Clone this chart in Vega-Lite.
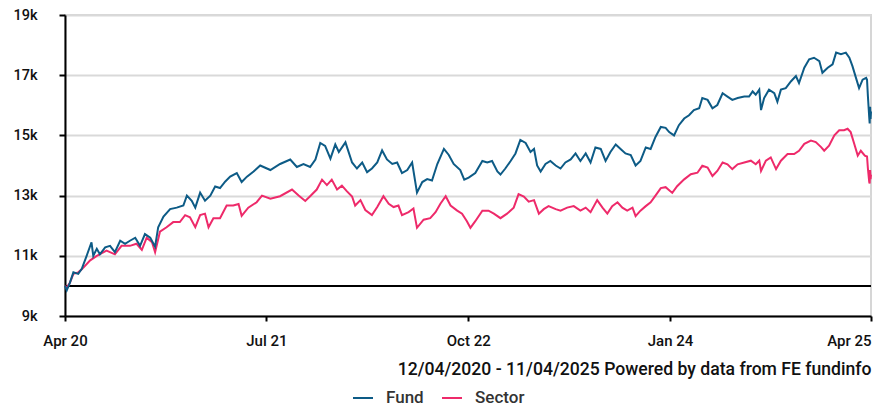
{
  "$schema": "https://vega.github.io/schema/vega-lite/v6.json",
  "width": 806,
  "height": 301,
  "autosize": {"type": "none"},
  "padding": {"left": 65, "top": 15, "right": 13, "bottom": 92},
  "background": "white",
  "config": {
    "view": {"stroke": "#d6d6d6", "strokeWidth": 2},
    "font": "Roboto"
  },
  "datasets": {
    "fund": [
      {"date":"2020-04-12","v":10000},{"date":"2020-04-16","v":9850},{"date":"2020-04-23","v":10100},{"date":"2020-05-01","v":10450},{"date":"2020-05-12","v":10400},{"date":"2020-05-20","v":10570},{"date":"2020-05-31","v":11000},{"date":"2020-06-11","v":11450},{"date":"2020-06-15","v":11000},{"date":"2020-06-23","v":11230},{"date":"2020-06-30","v":11050},{"date":"2020-07-12","v":11280},{"date":"2020-07-23","v":11330},{"date":"2020-08-03","v":11120},{"date":"2020-08-15","v":11500},{"date":"2020-08-26","v":11400},{"date":"2020-09-06","v":11500},{"date":"2020-09-18","v":11600},{"date":"2020-09-29","v":11330},{"date":"2020-10-10","v":11720},{"date":"2020-10-22","v":11600},{"date":"2020-11-02","v":11300},{"date":"2020-11-09","v":11950},{"date":"2020-11-21","v":12300},{"date":"2020-12-06","v":12550},{"date":"2020-12-21","v":12600},{"date":"2021-01-05","v":12670},{"date":"2021-01-13","v":13000},{"date":"2021-01-24","v":12830},{"date":"2021-02-01","v":12600},{"date":"2021-02-12","v":13100},{"date":"2021-02-23","v":12830},{"date":"2021-03-07","v":13000},{"date":"2021-03-18","v":13300},{"date":"2021-03-29","v":13250},{"date":"2021-04-10","v":13470},{"date":"2021-04-21","v":13630},{"date":"2021-05-06","v":13750},{"date":"2021-05-17","v":13450},{"date":"2021-05-29","v":13630},{"date":"2021-06-13","v":13800},{"date":"2021-06-28","v":14000},{"date":"2021-07-21","v":13850},{"date":"2021-08-12","v":14050},{"date":"2021-09-04","v":14200},{"date":"2021-09-19","v":13950},{"date":"2021-10-04","v":14050},{"date":"2021-10-19","v":13950},{"date":"2021-10-31","v":14200},{"date":"2021-11-11","v":14750},{"date":"2021-11-22","v":14650},{"date":"2021-12-04","v":14230},{"date":"2021-12-15","v":14700},{"date":"2021-12-23","v":14450},{"date":"2022-01-07","v":14770},{"date":"2022-01-22","v":14100},{"date":"2022-02-02","v":13900},{"date":"2022-02-14","v":14100},{"date":"2022-02-25","v":13780},{"date":"2022-03-08","v":13900},{"date":"2022-03-20","v":14100},{"date":"2022-03-31","v":14500},{"date":"2022-04-11","v":14200},{"date":"2022-04-23","v":14050},{"date":"2022-05-04","v":14100},{"date":"2022-05-15","v":13750},{"date":"2022-05-27","v":13850},{"date":"2022-06-07","v":14100},{"date":"2022-06-18","v":13100},{"date":"2022-06-30","v":13450},{"date":"2022-07-11","v":13550},{"date":"2022-07-22","v":13500},{"date":"2022-08-03","v":14050},{"date":"2022-08-18","v":14550},{"date":"2022-08-29","v":14350},{"date":"2022-09-09","v":14050},{"date":"2022-09-24","v":13850},{"date":"2022-10-03","v":13530},{"date":"2022-10-13","v":13600},{"date":"2022-10-28","v":13750},{"date":"2022-11-13","v":14150},{"date":"2022-11-24","v":14100},{"date":"2022-12-05","v":14150},{"date":"2022-12-17","v":13800},{"date":"2022-12-24","v":13700},{"date":"2023-01-04","v":13900},{"date":"2023-01-16","v":14150},{"date":"2023-01-27","v":14400},{"date":"2023-02-07","v":14850},{"date":"2023-02-19","v":14750},{"date":"2023-03-02","v":14450},{"date":"2023-03-10","v":14550},{"date":"2023-03-17","v":14000},{"date":"2023-03-25","v":13800},{"date":"2023-04-05","v":14050},{"date":"2023-04-16","v":14150},{"date":"2023-04-28","v":14000},{"date":"2023-05-09","v":13900},{"date":"2023-05-20","v":14100},{"date":"2023-06-01","v":14200},{"date":"2023-06-12","v":14400},{"date":"2023-06-23","v":14150},{"date":"2023-07-05","v":14400},{"date":"2023-07-16","v":14100},{"date":"2023-07-27","v":14600},{"date":"2023-08-08","v":14550},{"date":"2023-08-19","v":14150},{"date":"2023-08-30","v":14450},{"date":"2023-09-11","v":14700},{"date":"2023-09-22","v":14550},{"date":"2023-10-03","v":14400},{"date":"2023-10-15","v":14350},{"date":"2023-10-26","v":14000},{"date":"2023-11-06","v":14150},{"date":"2023-11-18","v":14600},{"date":"2023-11-29","v":14550},{"date":"2023-12-10","v":14950},{"date":"2023-12-22","v":15280},{"date":"2024-01-02","v":15250},{"date":"2024-01-10","v":15110},{"date":"2024-01-21","v":15000},{"date":"2024-02-01","v":15340},{"date":"2024-02-13","v":15560},{"date":"2024-02-24","v":15670},{"date":"2024-03-06","v":15840},{"date":"2024-03-18","v":15900},{"date":"2024-03-25","v":16240},{"date":"2024-04-06","v":16180},{"date":"2024-04-17","v":15900},{"date":"2024-04-28","v":16010},{"date":"2024-05-10","v":16400},{"date":"2024-05-21","v":16290},{"date":"2024-06-01","v":16180},{"date":"2024-06-13","v":16240},{"date":"2024-06-28","v":16290},{"date":"2024-07-09","v":16290},{"date":"2024-07-17","v":16460},{"date":"2024-07-24","v":16350},{"date":"2024-08-01","v":16520},{"date":"2024-08-05","v":15840},{"date":"2024-08-12","v":16240},{"date":"2024-08-23","v":16520},{"date":"2024-09-04","v":16400},{"date":"2024-09-11","v":16120},{"date":"2024-09-19","v":16520},{"date":"2024-09-30","v":16570},{"date":"2024-10-12","v":16800},{"date":"2024-10-23","v":16970},{"date":"2024-10-30","v":16740},{"date":"2024-11-11","v":17250},{"date":"2024-11-22","v":17530},{"date":"2024-12-03","v":17580},{"date":"2024-12-15","v":17470},{"date":"2024-12-22","v":17080},{"date":"2025-01-03","v":17250},{"date":"2025-01-14","v":17360},{"date":"2025-01-22","v":17750},{"date":"2025-02-02","v":17700},{"date":"2025-02-13","v":17750},{"date":"2025-02-21","v":17580},{"date":"2025-02-28","v":17300},{"date":"2025-03-08","v":16910},{"date":"2025-03-15","v":16570},{"date":"2025-03-23","v":16850},{"date":"2025-03-31","v":16910},{"date":"2025-04-02","v":16850},{"date":"2025-04-04","v":16300},{"date":"2025-04-07","v":15600},{"date":"2025-04-08","v":15400},{"date":"2025-04-09","v":15950},{"date":"2025-04-10","v":15550},{"date":"2025-04-11","v":15800}
    ],
    "sector": [
      {"date":"2020-04-12","v":10000},{"date":"2020-04-16","v":9950},{"date":"2020-04-23","v":10100},{"date":"2020-05-01","v":10400},{"date":"2020-05-12","v":10450},{"date":"2020-05-20","v":10550},{"date":"2020-06-08","v":10850},{"date":"2020-06-23","v":11000},{"date":"2020-07-15","v":11170},{"date":"2020-08-03","v":11050},{"date":"2020-08-18","v":11330},{"date":"2020-09-06","v":11330},{"date":"2020-09-21","v":11400},{"date":"2020-10-03","v":11200},{"date":"2020-10-14","v":11600},{"date":"2020-10-26","v":11450},{"date":"2020-11-02","v":11120},{"date":"2020-11-13","v":11800},{"date":"2020-11-28","v":11950},{"date":"2020-12-13","v":12120},{"date":"2020-12-28","v":12120},{"date":"2021-01-09","v":12350},{"date":"2021-01-20","v":12280},{"date":"2021-02-01","v":11950},{"date":"2021-02-12","v":12350},{"date":"2021-02-23","v":12400},{"date":"2021-03-03","v":11950},{"date":"2021-03-14","v":12250},{"date":"2021-03-29","v":12250},{"date":"2021-04-13","v":12670},{"date":"2021-04-28","v":12670},{"date":"2021-05-10","v":12720},{"date":"2021-05-17","v":12330},{"date":"2021-06-01","v":12600},{"date":"2021-06-20","v":12780},{"date":"2021-07-02","v":13000},{"date":"2021-07-21","v":12900},{"date":"2021-08-12","v":12980},{"date":"2021-09-08","v":13200},{"date":"2021-09-23","v":13000},{"date":"2021-10-08","v":12820},{"date":"2021-10-19","v":12980},{"date":"2021-11-03","v":13200},{"date":"2021-11-15","v":13530},{"date":"2021-11-26","v":13350},{"date":"2021-12-07","v":13530},{"date":"2021-12-19","v":13200},{"date":"2021-12-30","v":13330},{"date":"2022-01-10","v":13150},{"date":"2022-01-22","v":12970},{"date":"2022-01-29","v":12670},{"date":"2022-02-10","v":12850},{"date":"2022-02-21","v":12520},{"date":"2022-03-08","v":12350},{"date":"2022-03-20","v":12620},{"date":"2022-04-03","v":12980},{"date":"2022-04-15","v":12730},{"date":"2022-04-26","v":12620},{"date":"2022-05-07","v":12670},{"date":"2022-05-15","v":12350},{"date":"2022-05-30","v":12450},{"date":"2022-06-10","v":12570},{"date":"2022-06-18","v":11930},{"date":"2022-07-03","v":12200},{"date":"2022-07-18","v":12250},{"date":"2022-07-30","v":12450},{"date":"2022-08-10","v":12730},{"date":"2022-08-22","v":12980},{"date":"2022-09-02","v":12670},{"date":"2022-09-17","v":12500},{"date":"2022-09-28","v":12400},{"date":"2022-10-09","v":12150},{"date":"2022-10-17","v":11930},{"date":"2022-10-28","v":12150},{"date":"2022-11-13","v":12500},{"date":"2022-11-27","v":12500},{"date":"2022-12-09","v":12400},{"date":"2022-12-24","v":12250},{"date":"2023-01-08","v":12400},{"date":"2023-01-23","v":12600},{"date":"2023-02-03","v":13050},{"date":"2023-02-15","v":12970},{"date":"2023-02-26","v":12800},{"date":"2023-03-10","v":12850},{"date":"2023-03-21","v":12400},{"date":"2023-04-01","v":12550},{"date":"2023-04-12","v":12650},{"date":"2023-04-28","v":12550},{"date":"2023-05-09","v":12500},{"date":"2023-05-24","v":12600},{"date":"2023-06-08","v":12650},{"date":"2023-06-23","v":12500},{"date":"2023-07-05","v":12600},{"date":"2023-07-16","v":12450},{"date":"2023-07-31","v":12850},{"date":"2023-08-12","v":12600},{"date":"2023-08-23","v":12400},{"date":"2023-09-03","v":12650},{"date":"2023-09-15","v":12780},{"date":"2023-09-26","v":12600},{"date":"2023-10-07","v":12500},{"date":"2023-10-19","v":12600},{"date":"2023-10-26","v":12320},{"date":"2023-11-06","v":12500},{"date":"2023-11-18","v":12650},{"date":"2023-11-29","v":12780},{"date":"2023-12-10","v":13000},{"date":"2023-12-22","v":13250},{"date":"2024-01-02","v":13280},{"date":"2024-01-17","v":13090},{"date":"2024-01-28","v":13310},{"date":"2024-02-13","v":13540},{"date":"2024-02-28","v":13710},{"date":"2024-03-14","v":13760},{"date":"2024-03-25","v":13990},{"date":"2024-04-06","v":13930},{"date":"2024-04-17","v":13650},{"date":"2024-04-28","v":13820},{"date":"2024-05-10","v":14100},{"date":"2024-05-21","v":14040},{"date":"2024-06-01","v":13880},{"date":"2024-06-13","v":14040},{"date":"2024-06-28","v":14100},{"date":"2024-07-13","v":14160},{"date":"2024-07-24","v":14040},{"date":"2024-08-01","v":14160},{"date":"2024-08-05","v":13820},{"date":"2024-08-16","v":14160},{"date":"2024-08-27","v":14270},{"date":"2024-09-08","v":13880},{"date":"2024-09-19","v":14160},{"date":"2024-10-04","v":14380},{"date":"2024-10-19","v":14380},{"date":"2024-10-30","v":14490},{"date":"2024-11-11","v":14720},{"date":"2024-11-26","v":14830},{"date":"2024-12-07","v":14780},{"date":"2024-12-19","v":14610},{"date":"2024-12-26","v":14490},{"date":"2025-01-06","v":14660},{"date":"2025-01-18","v":15000},{"date":"2025-01-29","v":15170},{"date":"2025-02-09","v":15170},{"date":"2025-02-17","v":15220},{"date":"2025-02-24","v":15110},{"date":"2025-03-04","v":14720},{"date":"2025-03-12","v":14330},{"date":"2025-03-19","v":14490},{"date":"2025-03-28","v":14330},{"date":"2025-04-02","v":14300},{"date":"2025-04-04","v":13900},{"date":"2025-04-07","v":13450},{"date":"2025-04-08","v":13400},{"date":"2025-04-09","v":13850},{"date":"2025-04-10","v":13550},{"date":"2025-04-11","v":13700}
    ],
    "ref": [{"v": 10000}]
  },
  "encoding": {
    "x": {
      "field": "date",
      "type": "temporal",
      "scale": {
        "type": "utc",
        "domain": [{"year": 2020, "month": 4, "date": 12, "utc": true}, {"year": 2025, "month": 4, "date": 11, "utc": true}]
      },
      "axis": {
        "values": [
          {"year": 2020, "month": 4, "date": 12, "utc": true},
          {"year": 2021, "month": 7, "date": 12, "utc": true},
          {"year": 2022, "month": 10, "date": 12, "utc": true},
          {"year": 2024, "month": 1, "date": 12, "utc": true},
          {"year": 2025, "month": 4, "date": 11, "utc": true}
        ],
        "format": "%b %y",
        "title": "12/04/2020 - 11/04/2025 Powered by data from FE fundinfo",
        "titleAnchor": "end",
        "titleAlign": "right",
        "titleFont": "Roboto",
        "titleFontSize": 17.6,
        "titleFontWeight": 500,
        "titleColor": "#111111",
        "titlePadding": 12,
        "grid": false,
        "domainColor": "#000000",
        "domainWidth": 2,
        "tickColor": "#000000",
        "tickWidth": 2,
        "tickSize": 5,
        "labelFontSize": 15,
        "labelFontWeight": 500,
        "labelColor": "#111111",
        "labelPadding": 12,
        "labelAlign": {"expr": "datum.index == 1 ? 'right' : 'center'"},
        "labelFlush": false,
        "labelOverlap": false
      }
    },
    "y": {
      "field": "v",
      "type": "quantitative",
      "scale": {"domain": [9000, 19000], "nice": false, "zero": false},
      "axis": {
        "values": [9000, 11000, 13000, 15000, 17000, 19000],
        "labelExpr": "(datum.value / 1000) + 'k'",
        "title": null,
        "grid": true,
        "gridColor": "#d9d9d9",
        "gridWidth": 2,
        "domainColor": "#000000",
        "domainWidth": 2,
        "tickColor": "#000000",
        "tickWidth": 2,
        "tickSize": 6,
        "labelFontSize": 14.5,
        "labelFontWeight": 500,
        "labelColor": "#111111",
        "labelPadding": 22
      }
    }
  },
  "layer": [
    {
      "data": {"name": "ref"},
      "mark": {"type": "rule", "color": "#000000", "strokeWidth": 2},
      "encoding": {"x": null, "y": {"field": "v", "type": "quantitative"}}
    },
    {
      "data": {"name": "sector"},
      "transform": [{"calculate": "'Sector'", "as": "series"}],
      "mark": {"type": "line", "strokeWidth": 2},
      "encoding": {
        "color": {
          "field": "series",
          "type": "nominal",
          "scale": {"domain": ["Fund", "Sector"], "range": ["#0d5b86", "#ee2a6a"]},
          "legend": {
            "title": null,
            "orient": "none",
            "direction": "horizontal",
            "legendX": 287,
            "legendY": 372,
            "symbolType": "stroke",
            "symbolStrokeWidth": 2,
            "symbolSize": 400,
            "labelFont": "Roboto",
            "labelFontSize": 17,
            "labelFontWeight": 500,
            "labelColor": "#333333",
            "labelOffset": 12,
            "columnPadding": 14
          }
        }
      }
    },
    {
      "data": {"name": "fund"},
      "transform": [{"calculate": "'Fund'", "as": "series"}],
      "mark": {"type": "line", "strokeWidth": 2},
      "encoding": {
        "color": {"field": "series", "type": "nominal"}
      }
    }
  ]
}
